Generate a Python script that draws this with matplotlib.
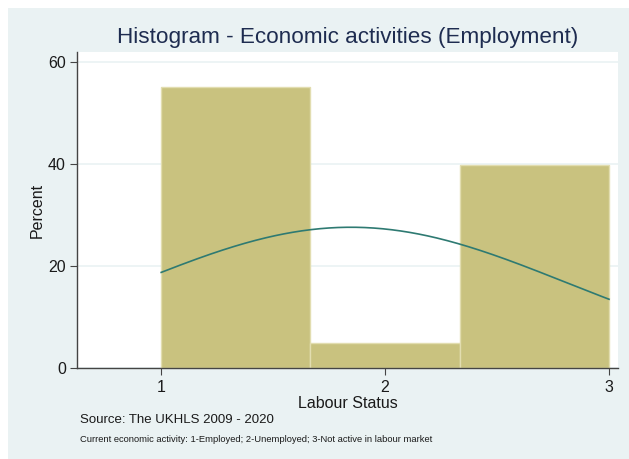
import numpy as np
import matplotlib.pyplot as plt
from matplotlib.patches import Rectangle

# Histogram of labour status (percent per bin)
bin_edges = [1.0, 5 / 3, 7 / 3, 3.0]
percents = [55.2, 4.9, 39.9]
categories = [1, 2, 3]
y_ticks = [0, 20, 40, 60]

title = "Histogram - Economic activities (Employment)"
xlabel = "Labour Status"
ylabel = "Percent"
note1 = "Source: The UKHLS 2009 - 2020"
note2 = "Current economic activity: 1-Employed; 2-Unemployed; 3-Not active in labour market"

bg = "#EAF2F3"
bar_color = "#C9C27F"
bar_edge = "#E2DDB0"
curve_color = "#2E7A72"
text_color = "#1A1A1A"
title_color = "#1E2C50"

plt.rcParams['font.family'] = ['Liberation Sans', 'DejaVu Sans']

fig = plt.figure(figsize=(6.29, 4.59), dpi=100)
fig.patch.set_facecolor("white")
W, H = 629, 459
fig.add_artist(Rectangle((8 / W, 0), 1 - 8 / W, 1 - 8 / H, transform=fig.transFigure,
                         facecolor=bg, edgecolor="none", zorder=-5))

ax = fig.add_axes([77 / W, 1 - 368 / H, (618 - 77) / W, (368 - 52) / H])
ax.set_facecolor("white")

edges = np.array(bin_edges)
widths = np.diff(edges)
ax.bar(edges[:-1], percents, width=widths, align="edge", color=bar_color,
       edgecolor=bar_edge, linewidth=1.0, zorder=2)

# Normal density overlay scaled to percent per bin width
mids = np.array(categories, dtype=float)
p = np.array(percents) / 100.0
mu = np.sum(p * mids)
sd = np.sqrt(np.sum(p * (mids - mu) ** 2))
xs = np.linspace(edges[0], edges[-1], 300)
dens = np.exp(-0.5 * ((xs - mu) / sd) ** 2) / (sd * np.sqrt(2 * np.pi))
ax.plot(xs, dens * widths[0] * 100, color=curve_color, linewidth=1.2, zorder=3)

ax.set_xlim(0.624, 3.04)
ax.set_ylim(0, 62)
ax.set_yticks(y_ticks)
ax.set_xticks(categories)
ax.yaxis.grid(True, color=bg, linewidth=1.2, zorder=1)
ax.set_axisbelow(True)

for s in ["top", "right"]:
    ax.spines[s].set_visible(False)
for s in ["left", "bottom"]:
    ax.spines[s].set_color("#444444")
    ax.spines[s].set_linewidth(1.0)
ax.tick_params(axis="both", colors="#444444", labelcolor=text_color, labelsize=11.5,
               length=5, width=0.8)
ax.tick_params(axis="y", pad=3)

ax.set_xlabel(xlabel, fontsize=11.5, color=text_color, labelpad=1)
ax.set_ylabel(ylabel, fontsize=11.5, color=text_color, labelpad=2)

fig.text(348 / W, 1 - 38 / H, title, ha="center", va="center", fontsize=16.2, color=title_color)
fig.text(80 / W, 1 - 420 / H, note1, ha="left", va="center", fontsize=9.5, color=text_color)
fig.text(80 / W, 1 - 439 / H, note2, ha="left", va="center", fontsize=6.75, color=text_color)

fig.savefig("out.png", dpi=100, facecolor=fig.get_facecolor())
